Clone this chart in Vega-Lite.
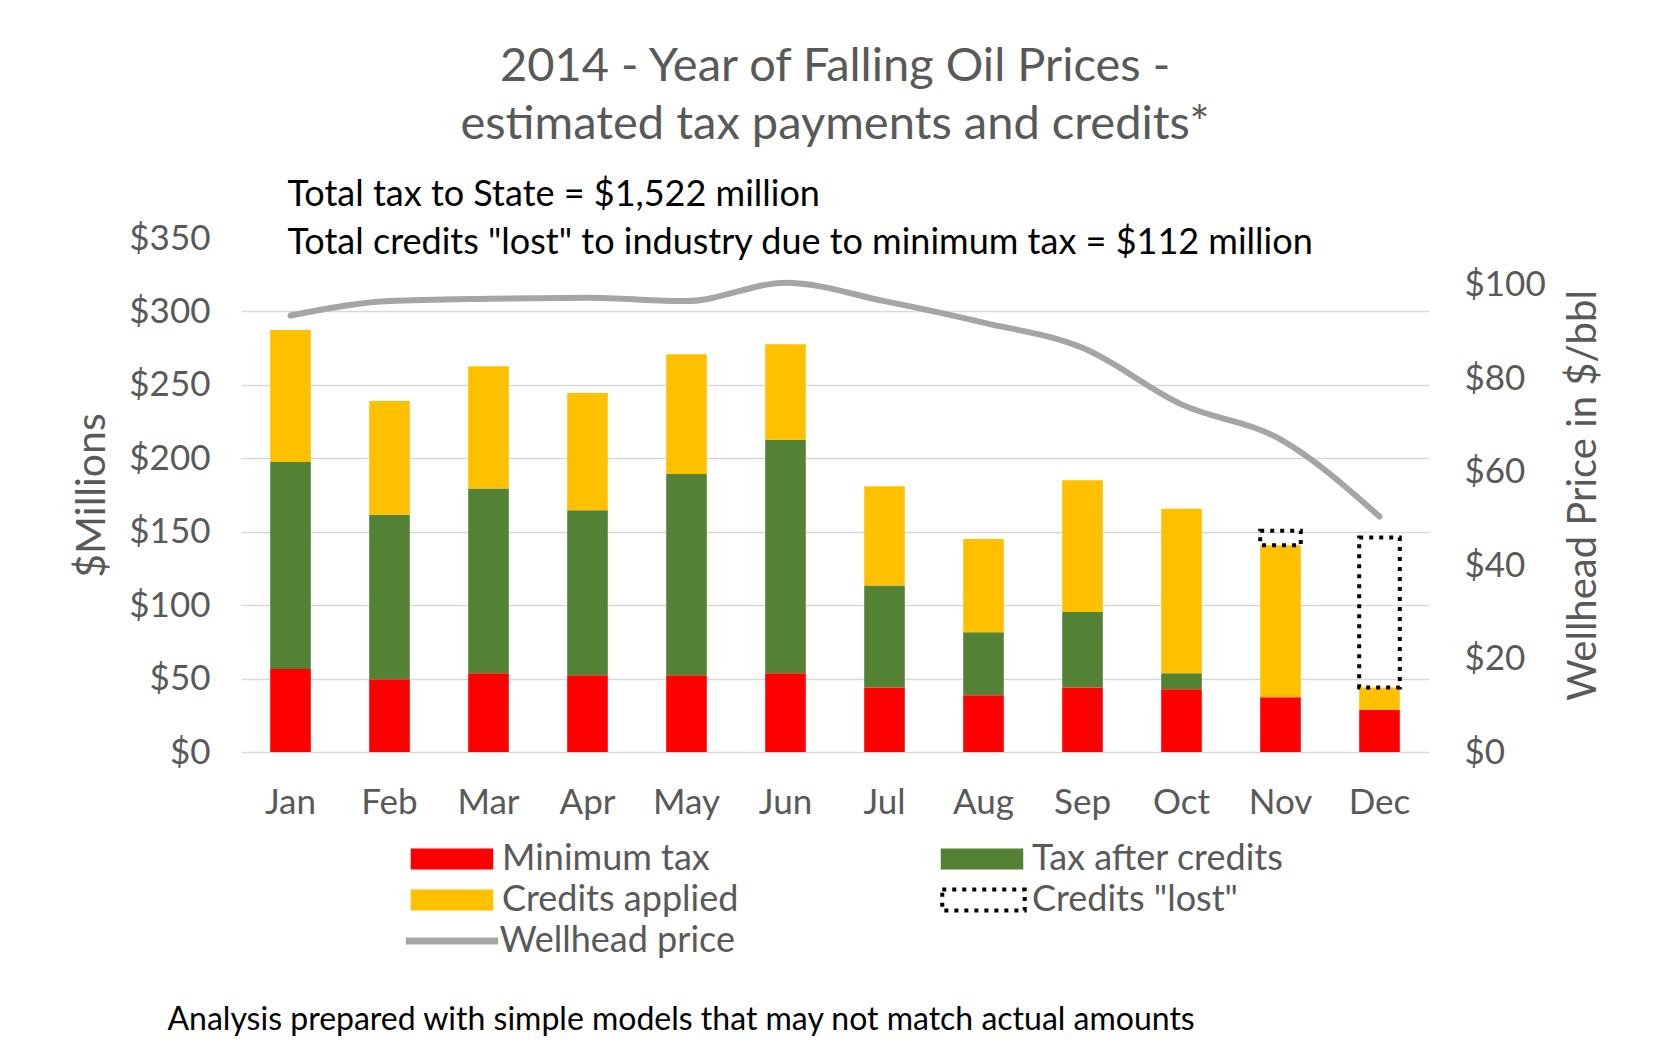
{
  "$schema": "https://vega.github.io/schema/vega-lite/v6.json",
  "width": 1188,
  "height": 514,
  "autosize": {"type": "none"},
  "padding": {"left": 241, "top": 238, "right": 231, "bottom": 292},
  "background": "white",
  "config": {
    "font": "Lato",
    "view": {"stroke": null},
    "axis": {"labelFont": "Lato", "titleFont": "Lato", "labelColor": "#595959", "titleColor": "#595959", "titleFontWeight": "normal"},
    "legend": {
      "labelFont": "Lato", "labelFontSize": 36, "labelColor": "#595959", "labelOffset": 8, "labelLimit": 500,
      "symbolSize": 6806, "symbolOffset": 0, "clipHeight": 34, "padding": 0, "rowPadding": 5
    }
  },
  "title": {
    "text": ["2014 - Year of Falling Oil Prices -", "estimated tax payments and credits*"],
    "font": "Lato",
    "fontSize": 47,
    "fontWeight": "normal",
    "color": "#595959",
    "lineHeight": 58,
    "anchor": "middle",
    "frame": "group",
    "offset": 28
  },
  "datasets": {
    "bars": [
      {"month": "Jan", "series": "Minimum tax", "value": 56.5},
      {"month": "Jan", "series": "Tax after credits", "value": 141.0},
      {"month": "Jan", "series": "Credits applied", "value": 89.8},
      {"month": "Feb", "series": "Minimum tax", "value": 49.5},
      {"month": "Feb", "series": "Tax after credits", "value": 112.1},
      {"month": "Feb", "series": "Credits applied", "value": 77.4},
      {"month": "Mar", "series": "Minimum tax", "value": 53.6},
      {"month": "Mar", "series": "Tax after credits", "value": 125.9},
      {"month": "Mar", "series": "Credits applied", "value": 83.1},
      {"month": "Apr", "series": "Minimum tax", "value": 52.2},
      {"month": "Apr", "series": "Tax after credits", "value": 112.4},
      {"month": "Apr", "series": "Credits applied", "value": 79.8},
      {"month": "May", "series": "Minimum tax", "value": 52.2},
      {"month": "May", "series": "Tax after credits", "value": 137.1},
      {"month": "May", "series": "Credits applied", "value": 81.5},
      {"month": "Jun", "series": "Minimum tax", "value": 53.6},
      {"month": "Jun", "series": "Tax after credits", "value": 159.1},
      {"month": "Jun", "series": "Credits applied", "value": 64.9},
      {"month": "Jul", "series": "Minimum tax", "value": 44.0},
      {"month": "Jul", "series": "Tax after credits", "value": 69.3},
      {"month": "Jul", "series": "Credits applied", "value": 67.6},
      {"month": "Aug", "series": "Minimum tax", "value": 38.6},
      {"month": "Aug", "series": "Tax after credits", "value": 42.9},
      {"month": "Aug", "series": "Credits applied", "value": 63.5},
      {"month": "Sep", "series": "Minimum tax", "value": 44.0},
      {"month": "Sep", "series": "Tax after credits", "value": 51.3},
      {"month": "Sep", "series": "Credits applied", "value": 89.7},
      {"month": "Oct", "series": "Minimum tax", "value": 42.7},
      {"month": "Oct", "series": "Tax after credits", "value": 10.9},
      {"month": "Oct", "series": "Credits applied", "value": 112.1},
      {"month": "Nov", "series": "Minimum tax", "value": 37.2},
      {"month": "Nov", "series": "Credits applied", "value": 103.5},
      {"month": "Dec", "series": "Minimum tax", "value": 28.8},
      {"month": "Dec", "series": "Credits applied", "value": 15.2}
    ],
    "lost": [
      {"month": "Nov", "series": "Credits \"lost\"", "low": 140.7, "high": 150.7},
      {"month": "Dec", "series": "Credits \"lost\"", "low": 44.0, "high": 146.0}
    ],
    "price": [
      {"month": "Jan", "price": 93.4},
      {"month": "Feb", "price": 96.5},
      {"month": "Mar", "price": 97.0},
      {"month": "Apr", "price": 97.2},
      {"month": "May", "price": 96.5},
      {"month": "Jun", "price": 100.4},
      {"month": "Jul", "price": 96.5},
      {"month": "Aug", "price": 91.9},
      {"month": "Sep", "price": 86.5},
      {"month": "Oct", "price": 74.4},
      {"month": "Nov", "price": 66.9},
      {"month": "Dec", "price": 50.4}
    ]
  },
  "layer": [
    {
      "layer": [
        {
          "data": {"name": "bars"},
          "transform": [
            {"calculate": "indexof(['Minimum tax','Tax after credits','Credits applied'], datum.series)", "as": "ord"}
          ],
          "mark": {"type": "bar"},
          "encoding": {
            "x": {
              "field": "month", "type": "nominal",
              "sort": ["Jan","Feb","Mar","Apr","May","Jun","Jul","Aug","Sep","Oct","Nov","Dec"],
              "scale": {"paddingInner": 0.59, "paddingOuter": 0.295},
              "axis": {
                "title": "Analysis prepared with simple models that may not match actual amounts",
                "titleFontSize": 32, "titleColor": "#000000", "titleAnchor": "start", "titleAlign": "left",
                "titleBaseline": "alphabetic", "titleX": -74, "titleY": 277,
                "labelAngle": 0, "labelFontSize": 35, "labelPadding": 33,
                "domain": false, "ticks": false, "grid": false
              }
            },
            "y": {
              "field": "value", "type": "quantitative", "stack": "zero",
              "scale": {"domain": [0, 350]},
              "axis": {
                "title": "$Millions", "titleFontSize": 41, "titlePadding": 15,
                "values": [0, 50, 100, 150, 200, 250, 300, 350],
                "labelExpr": "'$' + datum.value",
                "labelFontSize": 35, "labelPadding": 31,
                "domain": false, "ticks": false, "grid": true,
                "gridColor": {"condition": {"test": "datum.value === 350", "value": "transparent"}, "value": "#d9d9d9"},
                "gridWidth": 1.5
              }
            },
            "color": {
              "field": "series", "type": "nominal",
              "scale": {
                "domain": ["Minimum tax", "Tax after credits", "Credits applied"],
                "range": ["#ff0000", "#548235", "#ffc000"]
              },
              "legend": {
                "title": null,
                "orient": "none",
                "direction": "horizontal",
                "legendX": 169,
                "legendY": 604,
                "columns": 2,
                "columnPadding": 201,
                "symbolType": "M-1,-0.256H1V0.256H-1Z"
              }
            },
            "order": {"field": "ord", "type": "quantitative"}
          }
        },
        {
          "data": {"name": "lost"},
          "mark": {"type": "bar", "filled": false, "stroke": "#000000", "strokeWidth": 4},
          "encoding": {
            "x": {"field": "month", "type": "nominal", "sort": ["Jan","Feb","Mar","Apr","May","Jun","Jul","Aug","Sep","Oct","Nov","Dec"]},
            "y": {"field": "low", "type": "quantitative"},
            "y2": {"field": "high"},
            "strokeDash": {
              "field": "series", "type": "nominal",
              "scale": {"range": [[4, 6]]},
              "legend": {
                "title": null,
                "orient": "none",
                "legendX": 699,
                "legendY": 645,
                "labelOffset": 5,
                "symbolType": "M-1,-0.256H1V0.256H-1Z",
                "symbolFillColor": "transparent",
                "symbolStrokeColor": "#000000",
                "symbolStrokeWidth": 4
              }
            }
          }
        },
        {
          "data": {"values": [{}]},
          "mark": {
            "type": "text", "align": "left", "baseline": "alphabetic",
            "fontSize": 36, "font": "Lato", "color": "#000000",
            "lineHeight": 48, "dx": -3, "dy": -32
          },
          "encoding": {
            "x": {"datum": "Jan"},
            "y": {"datum": 350},
            "text": {"value": ["Total tax to State = $1,522 million", "Total credits \"lost\" to industry due to minimum tax = $112 million"]}
          }
        }
      ]
    },
    {
      "data": {"name": "price"},
      "mark": {"type": "line", "interpolate": "monotone", "strokeWidth": 6, "strokeCap": "round"},
      "encoding": {
        "x": {"field": "month", "type": "nominal", "sort": ["Jan","Feb","Mar","Apr","May","Jun","Jul","Aug","Sep","Oct","Nov","Dec"]},
        "y": {
          "field": "price", "type": "quantitative",
          "scale": {"domain": [0, 110]},
          "axis": {
            "orient": "right",
            "title": "Wellhead Price in $/bbl", "titleFontSize": 40, "titlePadding": 18,
            "titleAngle": 270, "titleBaseline": "top",
            "values": [0, 20, 40, 60, 80, 100],
            "labelExpr": "'$' + datum.value",
            "labelFontSize": 35, "labelPadding": 35,
            "domain": false, "ticks": false, "grid": false
          }
        },
        "stroke": {
          "datum": "Wellhead price",
          "scale": {"range": ["#a5a5a5"]},
          "legend": {
            "title": null,
            "orient": "none",
            "legendX": 151,
            "legendY": 686,
            "symbolType": "stroke",
            "symbolSize": 8520,
            "symbolOffset": 10,
            "labelOffset": -2.5,
            "symbolStrokeWidth": 7
          }
        }
      }
    }
  ],
  "resolve": {"scale": {"y": "independent"}, "axis": {"y": "independent"}}
}
